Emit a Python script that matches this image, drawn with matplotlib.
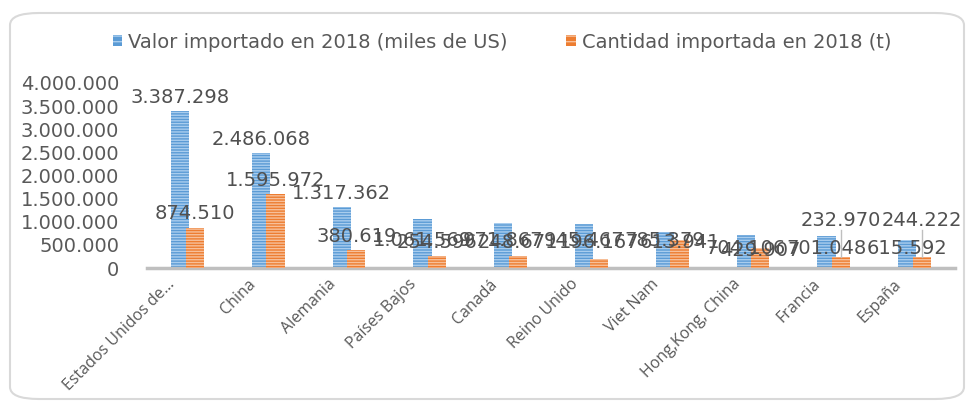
import matplotlib
matplotlib.use("Agg")
import matplotlib.pyplot as plt
from matplotlib.patches import FancyBboxPatch, Patch
from matplotlib.ticker import FuncFormatter
import numpy as np

categories = ["Estados Unidos de...", "China", "Alemania", "Países Bajos", "Canadá",
              "Reino Unido", "Viet Nam", "Hong,Kong, China", "Francia", "España"]
valor = [3387298, 2486068, 1317362, 1061569, 971867, 945467, 785379, 704106, 701048, 615592]
cantidad = [874510, 1595972, 380619, 254596, 248671, 196167, 613941, 429907, 232970, 244222]
series_names = ["Valor importado en 2018 (miles de US)", "Cantidad importada en 2018 (t)"]

BLUE = "#5B9BD5"
BLUE_L = "#A9CDEE"
ORANGE = "#ED7D31"
ORANGE_L = "#F7C09A"
TXT = "#595959"
LBL = "#505050"

plt.rcParams["hatch.linewidth"] = 1.0

def fmt(v):
    return f"{int(v):,}".replace(",", ".")

fig = plt.figure(figsize=(9.66, 4.03), dpi=100)
border = FancyBboxPatch((10/966, 4/403), (954)/966, (386)/403,
                        boxstyle="round,pad=0,rounding_size=0.03",
                        transform=fig.transFigure, facecolor="none",
                        edgecolor="#D9D9D9", linewidth=1.5, zorder=-1)
fig.patches.append(border)

ax = fig.add_axes([147/966, (403-268)/403, 808/966, 185/403])
ax.set_facecolor("none")
x = np.arange(len(categories))
w = 0.225
off = 0.09
ax.bar(x - off, valor, w, color=BLUE, edgecolor=BLUE_L, linewidth=0, hatch="------", zorder=2)
ax.bar(x + off, cantidad, w, color=ORANGE, edgecolor=ORANGE_L, linewidth=0, hatch="------", zorder=3)

ax.set_xlim(-0.5, len(categories) - 0.5)
ax.set_ylim(0, 4000000)
ax.set_yticks(np.arange(0, 4000001, 500000))
ax.yaxis.set_major_formatter(FuncFormatter(lambda v, p: fmt(v)))
ax.tick_params(axis="y", length=0, labelsize=14, labelcolor=TXT, pad=20)
ax.tick_params(axis="x", length=0)
for s in ["top", "right", "left"]:
    ax.spines[s].set_visible(False)
ax.spines["bottom"].set_color("#BFBFBF")
ax.spines["bottom"].set_linewidth(2.5)
ax.set_xticks(x)
ax.set_xticklabels([])
for i, c in enumerate(categories):
    ax.annotate(c, xy=(i, 0), xytext=(-7, -6), textcoords="offset points",
                rotation=45, ha="right", va="top", rotation_mode="default",
                fontsize=11.5, color=TXT, family="Open Sans")

# data labels
FS = 14
for i in range(len(categories)):
    if i < 3:
        ax.annotate(fmt(valor[i]), xy=(i - off, valor[i]), xytext=(0, 3), textcoords="offset points",
                    ha="center", va="bottom", fontsize=FS, color=LBL, zorder=5)
        ax.annotate(fmt(cantidad[i]), xy=(i + off, cantidad[i]), xytext=(0, 3), textcoords="offset points",
                    ha="center", va="bottom", fontsize=FS, color=LBL, zorder=5)
    else:
        lvl = 600000 if i < 7 else 420000
        ax.text(i - off, lvl, fmt(valor[i]), ha="center", va="center", fontsize=FS, color=LBL, zorder=5)
        if i < 8:
            ax.text(i + off, lvl - 40000, fmt(cantidad[i]), ha="center", va="center", fontsize=FS, color=LBL, zorder=5)
        else:
            ax.text(i + off, 1020000, fmt(cantidad[i]), ha="center", va="center", fontsize=FS, color=LBL, zorder=5)
            ax.plot([i + off, i + off], [cantidad[i], 820000], color="#BFBFBF", linewidth=1, zorder=4)

# legend
h1 = Patch(facecolor=BLUE, edgecolor=BLUE_L, hatch="---", linewidth=0)
h2 = Patch(facecolor=ORANGE, edgecolor=ORANGE_L, hatch="---", linewidth=0)
fig.legend([h1, h2], series_names, loc="center", bbox_to_anchor=(502/966, (403-42)/403),
           ncol=2, frameon=False, fontsize=14, handlelength=0.5, handleheight=0.5,
           handletextpad=0.3, columnspacing=3.0, labelcolor=TXT)

fig.savefig("out.png", dpi=100)
